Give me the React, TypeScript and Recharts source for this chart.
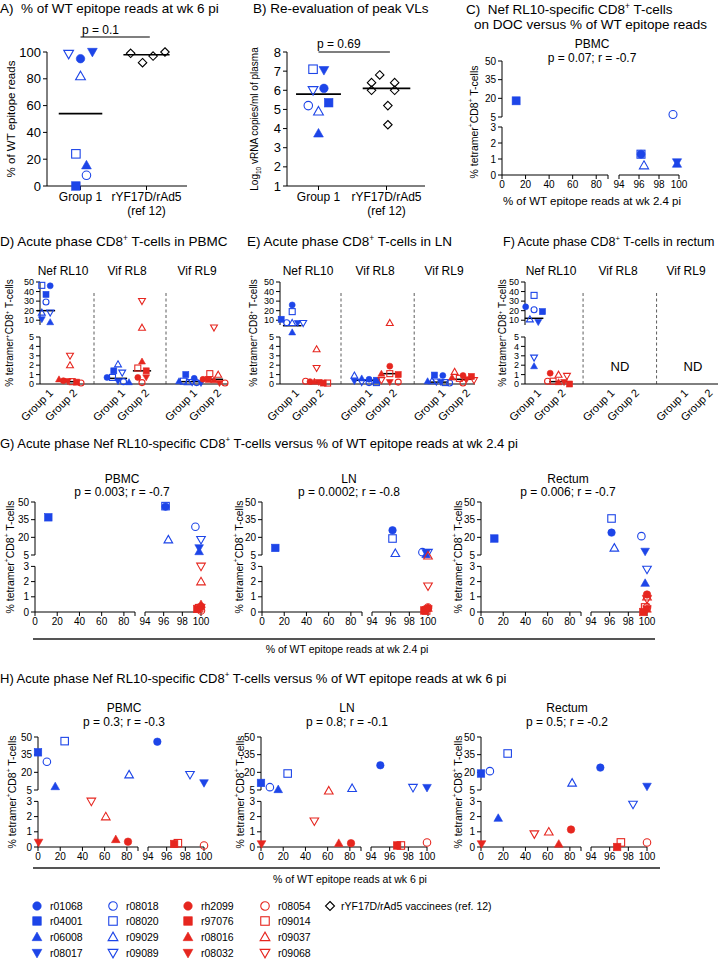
import React from 'react'
import { ScatterChart, Scatter, XAxis, YAxis, ReferenceLine } from 'recharts'

const BLUE = '#1d45e8'
const RED = '#e6261f'
const FONT = '"Liberation Sans", Arial, Helvetica, sans-serif'

// animals in legend order: blue filled, blue open, red filled, red open
const animals = ['r01068', 'r04001', 'r06008', 'r08017', 'r08018', 'r08020', 'r09029', 'r09089',
  'rh2099', 'r97076', 'r08016', 'r08032', 'r08054', 'r09014', 'r09037', 'r09068']
const shapeOrder = ['circle', 'square', 'up', 'down']

// % of WT epitope reads
const pctWk6 = [95, 0, 15.5, 100, 8, 24, 82, 98.5, 81, 96.8, 70, 0.5, 100, 97.2, 61, 48]
const pctWk24 = [96.2, 12, 99.8, 99.8, 99.4, 96.2, 96.5, 100, 100, 99.6, 100, 100, 100, 99.8, 100, 100]
const vaccWk6 = [99, 92, 97, 100]
const medianA = [54, 98]
const jitterA = [0, -0.07, 0.09, 0.18, 0.09, -0.07, 0, -0.18]
const jitterVaccA = [-0.24, -0.06, 0.1, 0.28]

// peak VL, log10 copies/ml
const peakVL = [6.1, 5.35, 3.75, 7.05, 5.2, 7.1, 4.9, 6.0]
const vaccVL = [6.8, 6.4, 6.4, 6.0, 6.0, 5.2, 4.2]
const medianB = [5.8, 6.1]
const jitterB = [0.08, 0.15, 0, 0.08, -0.15, -0.08, 0, -0.08]
const jitterVaccB = [-0.1, -0.22, 0.12, -0.22, 0.12, 0.02, 0.02]

const catLabels = [['Group 1'], ['rYF17D/rAd5', '(ref 12)']]
const groupNames = ['Group 1', 'Group 2']

// Nef RL10 on DOC, PBMC (group 1 only)
const docPbmc = [1.3, 18, 0.7, 0.8, 7, 1.3, 0.6, null]

// acute phase % tetramer+ CD8+ T-cells
const nefPbmc = [46, 37, 8, 11, 29, 46.5, 18, 18, 0.35, 0.2, 0.5, 0.3, 0.1, 0.25, 2.0, 3.0]
const rl8Pbmc = [0.7, 1.4, 0.2, 0.3, 0.25, 0.7, 2.1, 1.2, 0.7, 1.4, 2.4, 0.7, 0.15, 1.7, 6, 30]
const rl9Pbmc = [0.6, 1.0, 0.3, 0.1, 0.15, 0.3, 0.2, 0.2, 0.5, 0.5, 0.4, 0.1, 0.1, 1.1, 1.0, 6]
const nefLn = [26, 11, 5.5, 7, 7.4, 19, 6.5, 7, 0.25, 0.1, 0.25, 0.2, 0.3, 0.1, 3.7, 1.7]
const rl8Ln = [0.5, 0.4, 0.6, 0.3, 0.15, 0.15, 0.9, 0.2, 1.9, 1.0, 1.1, 0.2, 0.2, 1.1, 6.5, 0.4]
const rl9Ln = [0.9, 0.95, 0.3, 0.2, 0.1, 0.15, 0.3, 0.25, 0.9, 0.8, 0.7, 0.5, 0.1, 0.6, 1.3, 0.4]
const nefRectum = [24, 19, 1.9, 8, 21, 36, 11, 2.8, 1.15, 0, 0.2, 0.2, 0.3, 0.3, 1.0, 0.85]

// medians [group 1, group 2]
const medNefPbmc = [20, 0.25]
const medRl8Pbmc = [0.6, 1.4]
const medRl9Pbmc = [0.25, 0.5]
const medNefLn = [6.2, 0.2]
const medRl8Ln = [0.4, 1.1]
const medRl9Ln = [0.2, 0.5]
const medNefRectum = [12, 0.25]

const epitopes = ['Nef RL10', 'Vif RL8', 'Vif RL9']
const tissues = ['PBMC', 'LN', 'Rectum']
const statsG = ['p = 0.003; r = -0.7', 'p = 0.0002; r = -0.8', 'p = 0.006; r = -0.7']
const statsH = ['p = 0.3; r = -0.3', 'p = 0.8; r = -0.1', 'p = 0.5; r = -0.2']

const pctTicks = [0, 20, 40, 60, 80]
const pctTicksHigh = [94, 96, 98, 100]
const lowTicks3 = [0, 1, 2, 3]
const highTicks = [5, 20, 35, 50]
const lowTicks5 = [0, 1, 2, 3, 4, 5]
const highTicks10 = [10, 20, 30, 40, 50]
const ticksA = [0, 20, 40, 60, 80, 100]
const ticksB = [1, 2, 3, 4, 5, 6, 7, 8]

// broken axes: values mapped onto pixel-sized display units
type YB = { low: number; lowMax: number; split: number; upB: number; upT: number; upMin: number; upMax: number }
type XB = { left: number; gap: number; right: number }
const yC: YB = { low: 16, lowMax: 3, split: 5, upB: 58, upT: 114, upMin: 5, upMax: 50 }
const yGH: YB = { low: 15.2, lowMax: 3, split: 5, upB: 57, upT: 110, upMin: 5, upMax: 50 }
const yDEF: YB = { low: 9.4, lowMax: 5, split: 7, upB: 59, upT: 102, upMin: 5, upMax: 50 }
const xC: XB = { left: 106, gap: 11, right: 60 }
const xGH: XB = { left: 100, gap: 10, right: 56 }
const ty = (v: number, b: YB) => (v < b.split ? v * b.low : b.upB + ((v - b.upMin) * (b.upT - b.upB)) / (b.upMax - b.upMin))
const tx = (v: number, b: XB) => (v <= 92 ? (v * b.left) / 90 : b.left + b.gap + ((v - 94) * b.right) / 6)

const styleOf = (i: number) => ({ kind: shapeOrder[i % 4], filled: i % 8 < 4, color: i < 8 ? BLUE : RED })

type Pt = { x: number; y: number; kind: string; filled: boolean; color: string }
type Tick = { v: number; label: string }
type Seg = { x1: number; y1: number; x2: number; y2: number; w?: number; dash?: string; color?: string }

function Mark({ cx, cy, kind, filled, color, size }: { cx: number; cy: number; kind: string; filled: boolean; color: string; size: number }) {
  const r = size / 2
  const common = { fill: filled ? color : 'none', stroke: color, strokeWidth: filled ? 0.6 : 1.1 }
  if (kind === 'circle') return <circle cx={cx} cy={cy} r={r} {...common} />
  if (kind === 'square') return <rect x={cx - r} y={cy - r} width={size} height={size} {...common} />
  if (kind === 'diamond')
    return <polygon points={`${cx},${cy - r} ${cx + r},${cy} ${cx},${cy + r} ${cx - r},${cy}`} {...common} />
  const t = r * 1.15
  const p = kind === 'up'
    ? `${cx},${cy - t} ${cx + t},${cy + t * 0.75} ${cx - t},${cy + t * 0.75}`
    : `${cx},${cy + t} ${cx + t},${cy - t * 0.75} ${cx - t},${cy - t * 0.75}`
  return <polygon points={p} {...common} />
}

const ML = 40
const MT = 20
const MR = 14
const MB = 40

function Plot(p: {
  left: number; base: number; w: number; h: number
  xDomain: [number, number]; yDomain: [number, number]
  pts: Pt[]; size: number; font: number
  xTicks: Tick[]; yTicks: Tick[]; segs: Seg[]
  plain?: boolean; xTick?: any; xTickLine?: boolean
}) {
  const fmt = (list: Tick[]) => (v: number) => list.find((t) => Math.abs(t.v - v) < 1e-6)?.label ?? ''
  const tickStyle = { fill: '#000', fontSize: p.font, fontFamily: FONT }
  const axisLine = p.plain ? { stroke: '#000', strokeWidth: 1 } : false
  return (
    <div style={{ position: 'absolute', left: p.left - ML, top: p.base - p.h - MT }}>
      <ScatterChart width={p.w + ML + MR} height={p.h + MT + MB} margin={{ top: MT, right: MR, bottom: 0, left: 0 }}>
        <XAxis type="number" dataKey="x" scale="linear" domain={p.xDomain} ticks={p.xTicks.map((t) => t.v)}
          interval={0} height={MB} axisLine={axisLine} tickLine={p.xTickLine === false ? false : { stroke: '#000' }}
          tickSize={4} tickFormatter={fmt(p.xTicks)} tick={p.xTick ?? tickStyle} />
        <YAxis type="number" dataKey="y" scale="linear" domain={p.yDomain} ticks={p.yTicks.map((t) => t.v)}
          interval={0} width={ML} axisLine={axisLine} tickLine={{ stroke: '#000' }} tickSize={4}
          tickFormatter={fmt(p.yTicks)} tick={tickStyle} />
        {p.segs.map((s, i) => (
          <ReferenceLine key={i} segment={[{ x: s.x1, y: s.y1 }, { x: s.x2, y: s.y2 }]} stroke={s.color ?? '#000'}
            strokeWidth={s.w ?? 1} strokeDasharray={s.dash} ifOverflow="visible" />
        ))}
        <Scatter data={p.pts} isAnimationActive={false}
          shape={(q: any) => <Mark cx={q.cx} cy={q.cy} kind={q.payload.kind} filled={q.payload.filled} color={q.payload.color} size={p.size} />} />
      </ScatterChart>
    </div>
  )
}

function T({ x, y, size = 12, mid = false, rot = false, children }: { x: number; y: number; size?: number; mid?: boolean; rot?: boolean; children: React.ReactNode }) {
  const tr = rot ? 'translate(-50%,-50%) rotate(-90deg)' : mid ? 'translate(-50%,-50%)' : 'translateY(-50%)'
  return (
    <div style={{ position: 'absolute', left: x, top: y, transform: tr, fontSize: size, lineHeight: 1, whiteSpace: 'pre', color: '#000' }}>
      {children}
    </div>
  )
}

const Sup = ({ children }: { children: React.ReactNode }) => (
  <sup style={{ fontSize: '0.62em', verticalAlign: 'super', lineHeight: 0 }}>{children}</sup>
)
const TetLabel = () => <>% tetramer<Sup>+</Sup>CD8<Sup>+</Sup> T-cells</>

function CatTick({ x, y, payload, font }: any) {
  const lines: string[] = catLabels[Math.round(payload.value) - 1] ?? []
  return (
    <text x={x} y={y} textAnchor="middle" fill="#000" fontSize={font} fontFamily={FONT}>
      {lines.map((l, i) => (
        <tspan key={i} x={x} dy={i === 0 ? '0.71em' : '1.2em'}>{l}</tspan>
      ))}
    </text>
  )
}

function RotTick({ x, y, payload }: any) {
  const ax = x + 5
  const ay = y + 1
  return (
    <text x={ax} y={ay} dy="0.35em" transform={`rotate(-45 ${ax} ${ay})`} textAnchor="end" fill="#000" fontSize={11} fontFamily={FONT}>
      {groupNames[Math.round(payload.value) % 3]}
    </text>
  )
}

function GroupPlot({ left, xDomain, w, vals, jit, jitVacc, med, yDomain, ticks, bracketY, vaccVals }: any) {
  const pts: Pt[] = []
  vals.forEach((v: number, i: number) => pts.push({ x: 1 + jit[i], y: v, ...styleOf(i) }))
  vaccVals.forEach((v: number, j: number) => pts.push({ x: 2 + jitVacc[j], y: v, kind: 'diamond', filled: false, color: '#000' }))
  const segs: Seg[] = [
    { x1: 1 - 0.33, y1: med[0], x2: 1 + 0.33, y2: med[0], w: 1.6 },
    { x1: 2 - 0.35, y1: med[1], x2: 2 + 0.35, y2: med[1], w: 1.6 },
    { x1: 1, y1: bracketY, x2: 2.05, y2: bracketY, w: 1.2 },
  ]
  return (
    <Plot left={left} base={186} w={w} h={134} xDomain={xDomain} yDomain={yDomain} pts={pts} size={8.5} font={13}
      xTicks={[{ v: 1, label: '' }, { v: 2, label: '' }]} yTicks={ticks.map((t: number) => ({ v: t, label: String(t) }))}
      segs={segs} plain xTick={(q: any) => <CatTick {...q} font={12} />} />
  )
}

function swarm(ys: number[], size: number, maxHalf: number): number[] {
  const idx = ys.map((_, i) => i).sort((a, b) => ys[b] - ys[a])
  const off = ys.map(() => 0)
  let row: number[] = []
  const flush = () => {
    const n = row.length
    const step = n > 1 ? Math.min(size * 1.4, (2 * maxHalf) / (n - 1)) : 0
    row.forEach((k, j) => { off[k] = (j - (n - 1) / 2) * step })
    row = []
  }
  idx.forEach((k) => {
    if (row.length && ys[row[0]] - ys[k] > size * 0.8) flush()
    row.push(k)
  })
  flush()
  return off
}

function AcutePlot({ left, w, s, x0, series, meds }: { left: number; w: number; s: number; x0: number; series: (number[] | null)[]; meds: number[][] }) {
  const pts: Pt[] = []
  const xMax = x0 + w / s
  const segs: Seg[] = [
    { x1: x0, y1: 0, x2: xMax, y2: 0 },
    { x1: x0, y1: 0, x2: x0, y2: ty(yDEF.lowMax, yDEF) },
    { x1: x0, y1: yDEF.upB, x2: x0, y2: yDEF.upT },
    { x1: 2, y1: 0, x2: 2, y2: 93, dash: '3 2.5', w: 0.8, color: '#333' },
    { x1: 5, y1: 0, x2: 5, y2: 93, dash: '3 2.5', w: 0.8, color: '#333' },
  ]
  series.forEach((vals, e) => {
    if (!vals) return
    ;[0, 1].forEach((g) => {
      const ids = animals.map((_, i) => i).filter((i) => (i < 8) === (g === 0))
      const ys = ids.map((i) => ty(vals[i], yDEF))
      const off = swarm(ys, 6, 11)
      const slot = e * 3 + g
      ids.forEach((i, k) => pts.push({ x: slot + off[k] / s, y: ys[k], ...styleOf(i) }))
      const m = ty(meds[e][g], yDEF)
      segs.push({ x1: slot - 0.38, y1: m, x2: slot + 0.38, y2: m, w: 1.5 })
    })
  })
  const yTicks = [...lowTicks5, ...highTicks10].map((v) => ({ v: ty(v, yDEF), label: String(v) }))
  const xTicks = [0, 1, 3, 4, 6, 7].map((v) => ({ v, label: '' }))
  return (
    <Plot left={left} base={384} w={w} h={yDEF.upT} xDomain={[x0, xMax]} yDomain={[0, yDEF.upT]} pts={pts} size={6}
      font={9} xTicks={xTicks} yTicks={yTicks} segs={segs} xTickLine={false} xTick={(q: any) => <RotTick {...q} />} />
  )
}

function CorrPlot({ left, base, xb, yb, xs, ys, size, font }: { left: number; base: number; xb: XB; yb: YB; xs: number[]; ys: (number | null)[]; size: number; font: number }) {
  const w = xb.left + xb.gap + xb.right
  const h = yb.upT
  const pts: Pt[] = []
  animals.forEach((_, i) => {
    const y = ys[i]
    const x = xs[i]
    if (y == null || x == null) return
    pts.push({ x: tx(x, xb), y: ty(y, yb), ...styleOf(i) })
  })
  const xTicks = [
    ...pctTicks.map((v) => ({ v: tx(v, xb), label: String(v) })),
    { v: tx(90, xb), label: '' },
    ...pctTicksHigh.map((v) => ({ v: tx(v, xb), label: String(v) })),
  ]
  const yTicks = [...lowTicks3, ...highTicks].map((v) => ({ v: ty(v, yb), label: String(v) }))
  const segs: Seg[] = [
    { x1: 0, y1: 0, x2: xb.left, y2: 0 },
    { x1: xb.left + xb.gap, y1: 0, x2: w, y2: 0 },
    { x1: 0, y1: 0, x2: 0, y2: ty(yb.lowMax, yb) },
    { x1: 0, y1: yb.upB, x2: 0, y2: yb.upT },
  ]
  return (
    <Plot left={left} base={base} w={w} h={h} xDomain={[0, w]} yDomain={[0, h]} pts={pts} size={size} font={font}
      xTicks={xTicks} yTicks={yTicks} segs={segs} />
  )
}

function Legend() {
  const colX = [37, 113, 188, 265]
  const rowY = [906, 921, 937, 953]
  return (
    <>
      {animals.map((a, i) => {
        const st = styleOf(i)
        const x = colX[Math.floor(i / 4)]
        const y = rowY[i % 4]
        return (
          <div key={a} style={{ position: 'absolute', left: x - 6, top: y - 6, display: 'flex', alignItems: 'center' }}>
            <svg width={12} height={12} style={{ display: 'block' }}>
              <Mark cx={6} cy={6} kind={st.kind} filled={st.filled} color={st.color} size={8.5} />
            </svg>
            <span style={{ fontSize: 10.5, marginLeft: 7, lineHeight: 1 }}>{a}</span>
          </div>
        )
      })}
      <div style={{ position: 'absolute', left: 324, top: 900, display: 'flex', alignItems: 'center' }}>
        <svg width={12} height={12} style={{ display: 'block' }}>
          <Mark cx={6} cy={6} kind="diamond" filled={false} color="#000" size={9} />
        </svg>
        <span style={{ fontSize: 10.5, marginLeft: 5, lineHeight: 1 }}>rYF17D/rAd5 vaccinees (ref. 12)</span>
      </div>
    </>
  )
}

export default function App() {
  const gLefts = [35, 262, 481]
  const hLefts = [38, 261, 481]
  const tissueNef = [nefPbmc, nefLn, nefRectum]
  return (
    <div style={{ position: 'absolute', left: 0, top: 0, width: 720, height: 959, background: '#fff', overflow: 'hidden', fontFamily: FONT }}>
      {/* A */}
      <T x={0} y={9} size={13.5}>{'A)  % of WT epitope reads at wk 6 pi'}</T>
      <T x={12} y={119} size={11.5} rot>% of WT epitope reads</T>
      <T x={82} y={30} size={12}>p = 0.1</T>
      <GroupPlot left={47} w={140} xDomain={[0.492, 2.614]} vals={pctWk6.slice(0, 8)} vaccVals={vaccWk6} jit={jitterA}
        jitVacc={jitterVaccA} med={medianA} yDomain={[0, 100]} ticks={ticksA} bracketY={111.2} />

      {/* B */}
      <T x={253} y={9} size={13.5}>B) Re-evaluation of peak VLs</T>
      <T x={255} y={119} size={10} rot>Log<sub style={{ fontSize: '0.65em', lineHeight: 0 }}>10</sub> vRNA copies/ml of plasma</T>
      <T x={317} y={44} size={12}>p = 0.69</T>
      <GroupPlot left={287} w={138} xDomain={[0.537, 2.566]} vals={peakVL} vaccVals={vaccVL} jit={jitterB}
        jitVacc={jitterVaccB} med={medianB} yDomain={[1, 8]} ticks={ticksB} bracketY={8} />

      {/* C */}
      <T x={466} y={10} size={13.5}>{'C)  Nef RL10-specific CD8'}<Sup>+</Sup>{' T-cells'}</T>
      <T x={474} y={25} size={13.5}>on DOC versus % of WT epitope reads</T>
      <T x={592} y={44} size={12} mid>PBMC</T>
      <T x={592} y={58} size={12} mid>p = 0.07; r = -0.7</T>
      <T x={474} y={122} size={10.5} rot><TetLabel /></T>
      <CorrPlot left={502} base={175} xb={xC} yb={yC} xs={pctWk24} ys={docPbmc} size={8} font={10} />
      <T x={592} y={202} size={11.5} mid>% of WT epitope reads at wk 2.4 pi</T>

      {/* D E F */}
      <T x={0} y={242} size={13.5}>D) Acute phase CD8<Sup>+</Sup> T-cells in PBMC</T>
      <T x={247} y={242} size={13.5}>E) Acute phase CD8<Sup>+</Sup> T-cells in LN</T>
      <T x={503} y={242} size={12.5}>F) Acute phase CD8<Sup>+</Sup> T-cells in rectum</T>
      {[63, 127, 197].map((x, i) => <T key={'d' + i} x={x} y={271} size={12} mid>{epitopes[i]}</T>)}
      {[308, 375, 444].map((x, i) => <T key={'e' + i} x={x} y={271} size={12} mid>{epitopes[i]}</T>)}
      {[551, 618, 686].map((x, i) => <T key={'f' + i} x={x} y={271} size={12} mid>{epitopes[i]}</T>)}
      <T x={10} y={333} size={10} rot><TetLabel /></T>
      <T x={254} y={333} size={10} rot><TetLabel /></T>
      <T x={503} y={333} size={10} rot><TetLabel /></T>
      <AcutePlot left={40} w={188} s={24} x0={-0.25} series={[nefPbmc, rl8Pbmc, rl9Pbmc]} meds={[medNefPbmc, medRl8Pbmc, medRl9Pbmc]} />
      <AcutePlot left={280} w={195} s={24.4} x0={-0.5} series={[nefLn, rl8Ln, rl9Ln]} meds={[medNefLn, medRl8Ln, medRl9Ln]} />
      <AcutePlot left={525} w={193} s={24.5} x0={-0.37} series={[nefRectum, null, null]} meds={[medNefRectum, [0, 0], [0, 0]]} />
      <T x={620} y={366} size={13} mid>ND</T>
      <T x={693} y={366} size={13} mid>ND</T>

      {/* G */}
      <T x={0} y={443} size={13}>G) Acute phase Nef RL10-specific CD8<Sup>+</Sup> T-cells versus % of WT epitope reads at wk 2.4 pi</T>
      {tissues.map((t, k) => (
        <React.Fragment key={'g' + t}>
          <T x={gLefts[k] + 87} y={479} size={12} mid>{t}</T>
          <T x={gLefts[k] + 87} y={492} size={12} mid>{statsG[k]}</T>
          <T x={[10, 239, 458][k]} y={557} size={10.5} rot><TetLabel /></T>
          <CorrPlot left={gLefts[k]} base={612} xb={xGH} yb={yGH} xs={pctWk24} ys={tissueNef[k]} size={7.5} font={10} />
        </React.Fragment>
      ))}
      <div style={{ position: 'absolute', left: 33, top: 638, width: 622, height: 2, background: '#555' }} />
      <T x={347} y={649} size={10.5} mid>% of WT epitope reads at wk 2.4 pi</T>

      {/* H */}
      <T x={0} y={678} size={13}>H) Acute phase Nef RL10-specific CD8<Sup>+</Sup> T-cells versus % of WT epitope reads at wk 6 pi</T>
      {tissues.map((t, k) => (
        <React.Fragment key={'h' + t}>
          <T x={hLefts[k] + 86} y={708} size={12} mid>{t}</T>
          <T x={hLefts[k] + 86} y={722} size={12} mid>{statsH[k]}</T>
          <T x={[12, 240, 458][k]} y={792} size={10.5} rot><TetLabel /></T>
          <CorrPlot left={hLefts[k]} base={847} xb={xGH} yb={yGH} xs={pctWk6} ys={tissueNef[k]} size={7.5} font={10} />
        </React.Fragment>
      ))}
      <div style={{ position: 'absolute', left: 33, top: 867, width: 627, height: 2, background: '#555' }} />
      <T x={350} y={879} size={10.5} mid>% of WT epitope reads at wk 6 pi</T>

      <Legend />
    </div>
  )
}
